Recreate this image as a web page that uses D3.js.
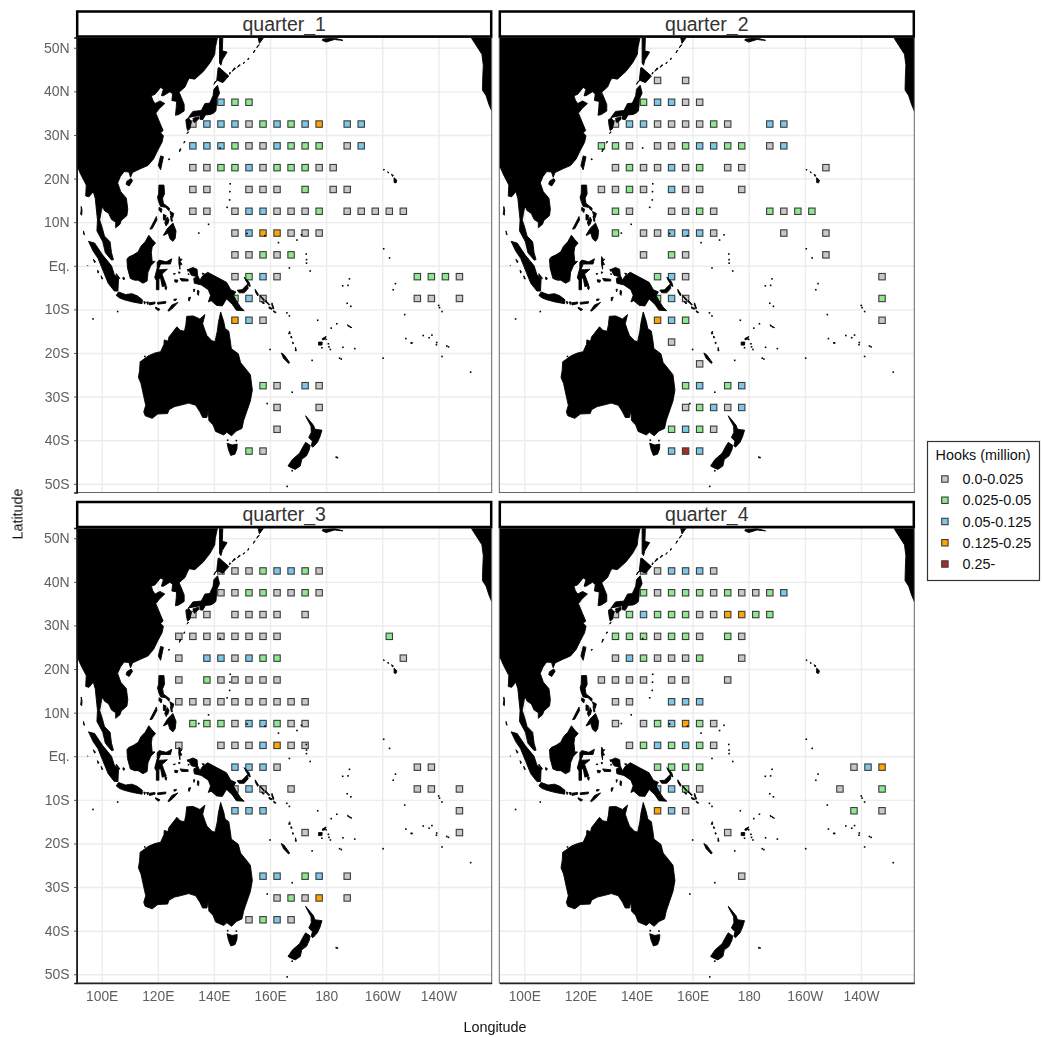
<!DOCTYPE html>
<html><head><meta charset="utf-8">
<script src="https://cdnjs.cloudflare.com/ajax/libs/d3/7.8.5/d3.min.js"></script>
<style>html,body{margin:0;padding:0;background:#fff}svg{display:block;font-family:"Liberation Sans",Arial,sans-serif;filter:blur(0.35px)}</style>
</head><body><svg id="c" width="1042" height="1037"></svg>
<script>
const quarterNames=["quarter_1","quarter_2","quarter_3","quarter_4"];
const binLabels=["0.0-0.025","0.025-0.05","0.05-0.125","0.125-0.25","0.25-"];
const binColors=["#c8c8c8","#8fe88f","#7cc8ea","#ffa500","#a52a2a"];
const lonTicks=[100,120,140,160,180,200,220];
const lonTickLabels=["100E","120E","140E","160E","180","160W","140W"];
const latTicks=[50,40,30,20,10,0,-10,-20,-30,-40,-50];
const latTickLabels=["50N","40N","30N","20N","10N","Eq.","10S","20S","30S","40S","50S"];

// rows: [lat, [lon, bin, lon, bin, ...]]
const quarter1=[
[37.5,[142.5,2,147.5,1,152.5,1]],
[32.5,[132.5,0,137.5,2,142.5,2,147.5,2,152.5,0,157.5,1,162.5,2,167.5,1,172.5,2,177.5,3,187.5,2,192.5,2]],
[27.5,[132.5,2,137.5,2,142.5,2,147.5,1,152.5,0,157.5,0,162.5,2,167.5,1,172.5,1,177.5,1,187.5,0,192.5,2]],
[22.5,[132.5,0,137.5,0,142.5,1,147.5,1,152.5,2,157.5,0,162.5,1,167.5,1,172.5,1,177.5,0,182.5,0]],
[17.5,[132.5,0,137.5,0,152.5,0,157.5,0,162.5,0,172.5,1,182.5,0,187.5,0]],
[12.5,[132.5,0,137.5,0,147.5,0,152.5,2,157.5,2,162.5,0,167.5,0,172.5,0,177.5,1,187.5,0,192.5,0,197.5,0,202.5,0,207.5,0]],
[7.5,[147.5,0,152.5,2,157.5,3,162.5,3,167.5,0,172.5,0,177.5,0]],
[2.5,[147.5,0,152.5,0,157.5,1,162.5,0,167.5,1]],
[-2.5,[147.5,0,152.5,1,157.5,2,162.5,0,212.5,1,217.5,1,222.5,1,227.5,0]],
[-7.5,[147.5,1,152.5,2,157.5,0,212.5,0,217.5,0,227.5,0]],
[-12.5,[147.5,3,152.5,2,157.5,0]],
[-27.5,[157.5,1,162.5,0,172.5,2,177.5,0]],
[-32.5,[162.5,0,177.5,0]],
[-37.5,[162.5,0]],
[-42.5,[152.5,1,157.5,0]]];
const quarter2=[
[42.5,[147.5,0,157.5,0]],
[37.5,[142.5,1,147.5,2,152.5,2,157.5,0,162.5,0]],
[32.5,[132.5,0,137.5,2,142.5,2,147.5,0,152.5,0,157.5,0,162.5,0,167.5,1,172.5,0,187.5,2,192.5,2]],
[27.5,[127.5,1,132.5,1,137.5,0,147.5,0,152.5,0,157.5,1,162.5,2,167.5,2,172.5,1,177.5,1,187.5,0,192.5,2]],
[22.5,[132.5,0,137.5,1,142.5,0,147.5,0,152.5,2,157.5,0,162.5,1,172.5,0,177.5,0,207.5,0]],
[17.5,[127.5,0,132.5,0,137.5,1,142.5,0,152.5,2,157.5,0,162.5,0,177.5,0]],
[12.5,[132.5,1,137.5,0,152.5,0,157.5,0,162.5,1,167.5,0,187.5,1,192.5,0,197.5,1,202.5,1]],
[7.5,[132.5,1,142.5,0,147.5,0,152.5,2,157.5,2,162.5,2,167.5,0,192.5,0,207.5,0]],
[2.5,[142.5,0,152.5,1,157.5,0,207.5,0]],
[-2.5,[147.5,1,152.5,2,157.5,0,227.5,0]],
[-7.5,[147.5,1,152.5,2,157.5,0,227.5,1]],
[-12.5,[147.5,3,152.5,2,157.5,1,227.5,0]],
[-17.5,[152.5,0]],
[-22.5,[162.5,0]],
[-27.5,[157.5,1,162.5,2,172.5,1,177.5,2]],
[-32.5,[157.5,0,162.5,1,167.5,2,172.5,0,177.5,2]],
[-37.5,[152.5,1,157.5,2,162.5,1,167.5,0]],
[-42.5,[152.5,2,157.5,4,162.5,2]]];
const quarter3=[
[42.5,[142.5,0,147.5,0,152.5,0,157.5,1,162.5,2,167.5,2,172.5,1,177.5,0]],
[37.5,[142.5,0,147.5,0,152.5,1,157.5,1,162.5,0,167.5,0,172.5,1,177.5,0]],
[32.5,[132.5,0,137.5,0,147.5,0,152.5,0,157.5,0,162.5,0,172.5,0]],
[27.5,[127.5,0,132.5,0,137.5,0,142.5,0,147.5,0,152.5,0,157.5,0,162.5,0,202.5,1]],
[22.5,[127.5,0,137.5,2,142.5,2,147.5,0,152.5,2,157.5,1,162.5,1,207.5,0]],
[17.5,[127.5,0,137.5,1,142.5,0,147.5,0,152.5,0,157.5,0,162.5,0]],
[12.5,[127.5,0,132.5,0,137.5,0,142.5,0,147.5,0,152.5,0,157.5,0,162.5,0,167.5,0,172.5,0]],
[7.5,[132.5,1,137.5,1,142.5,1,147.5,0,152.5,2,157.5,2,162.5,1,167.5,0,172.5,0]],
[2.5,[127.5,0,142.5,0,147.5,0,152.5,0,157.5,2,162.5,3,167.5,0,172.5,0]],
[-2.5,[147.5,2,152.5,2,157.5,2,162.5,0,212.5,0,217.5,0]],
[-7.5,[147.5,0,152.5,2,157.5,0,167.5,0,212.5,0,217.5,0,227.5,0]],
[-12.5,[147.5,2,152.5,2,157.5,2,227.5,0]],
[-17.5,[172.5,0,227.5,0]],
[-27.5,[157.5,2,162.5,2,172.5,1,177.5,2,187.5,0]],
[-32.5,[162.5,0,167.5,1,172.5,0,177.5,3,187.5,0]],
[-37.5,[152.5,0,157.5,1,162.5,2,167.5,0]]];
const quarter4=[
[42.5,[142.5,0,147.5,0,152.5,2,157.5,2,162.5,2,167.5,0]],
[37.5,[142.5,1,147.5,0,152.5,1,157.5,1,162.5,1,167.5,0,172.5,1,177.5,0,182.5,0,187.5,1,192.5,2]],
[32.5,[132.5,0,137.5,1,142.5,2,147.5,1,152.5,1,157.5,1,162.5,0,167.5,0,172.5,3,177.5,3,182.5,1,187.5,1]],
[27.5,[132.5,1,137.5,1,142.5,1,147.5,0,152.5,1,157.5,1,162.5,0,172.5,1,177.5,0]],
[22.5,[132.5,0,137.5,2,142.5,1,147.5,0,152.5,0,157.5,0,162.5,1,177.5,0]],
[17.5,[127.5,0,132.5,0,137.5,0,142.5,0,152.5,0,157.5,0,172.5,0]],
[12.5,[132.5,0,137.5,0,152.5,2,157.5,2,162.5,2]],
[7.5,[132.5,0,142.5,0,147.5,1,152.5,2,157.5,3,162.5,1,167.5,0]],
[2.5,[137.5,0,142.5,1,147.5,2,152.5,1,157.5,2,162.5,1,167.5,0]],
[-2.5,[147.5,1,152.5,1,157.5,1,162.5,1,217.5,0,222.5,2,227.5,3]],
[-7.5,[147.5,2,152.5,2,157.5,1,162.5,0,212.5,0,227.5,1]],
[-12.5,[147.5,3,152.5,2,157.5,0,217.5,1,227.5,0]],
[-17.5,[172.5,0]],
[-27.5,[177.5,0]]];
const quarters=[quarter1,quarter2,quarter3,quarter4];

// Coastlines as [lon, lat] outlines (longitudes run 0-360)
const asia=[[85,60],[144,60],[141.5,53],[141,51.5],[140.5,50],[140.3,48.5],[138.7,46.6],[136.3,44.6],[133.2,42.8],[131.2,43],[130.6,42.3],[129.7,41],[127.6,39.8],[128.4,38.6],[129.4,37],[129.4,35.5],[127.5,34.7],[126.3,34.5],[126.6,36.5],[126.7,37.7],[125,37.9],[125.3,39.4],[124.3,39.9],[122,39],[121.3,39],[122,40.5],[121,40.9],[119,39.3],[117.7,39],[118.2,38],[119,37.2],[120.8,37.8],[122.5,37.2],[120.5,36],[119.3,35],[120.8,32.7],[121.9,31],[121,30.5],[122,29.8],[121.5,28.3],[120,26.5],[118.5,24.5],[116.5,23],[114,22.3],[111,21.4],[110.3,20.3],[109.7,21.5],[108,21.6],[106.7,20.5],[105.7,19],[106.8,17],[108.8,15.5],[109.3,13],[109,11.5],[107,10.4],[106.5,9.5],[105,8.7],[105,10],[103.5,10.6],[102.5,12],[100.9,12.7],[100.5,13.5],[100,13],[99.3,10.5],[100.3,8.5],[101,6.8],[103,5.5],[103.5,3],[104.2,1.4],[103.5,1.3],[101.3,3],[100.4,5.5],[98.3,8],[98.5,10.5],[97.7,15.5],[97,17],[95.5,15.8],[94.3,16],[94.5,18.5],[92.5,21],[91.5,22.5],[85,22.5]];
const australia=[[113.7,-22],[114.2,-21.8],[116.8,-20.6],[119,-20],[121,-19.7],[122.2,-18],[122.3,-17],[123.6,-17.3],[124,-16.3],[125,-15.5],[126.8,-14],[128,-14.8],[129.5,-15],[130,-13.5],[130.3,-11.6],[132.6,-11.5],[135,-12.2],[136.8,-11.2],[136,-13.3],[136.8,-14.8],[137.5,-16],[139.3,-17.2],[140.4,-17.4],[141.2,-15],[141.6,-13],[142.4,-10.6],[143.5,-12.8],[144,-14.4],[145.3,-15],[145.8,-17],[146.2,-19],[148.7,-20.2],[149.5,-22.2],[150.8,-23.2],[153,-25],[153.7,-28.5],[153,-31],[151.5,-33.8],[150.6,-35.5],[150,-37.3],[148,-37.9],[146.3,-39],[144.6,-38.2],[143.5,-38.8],[140.6,-38],[139.7,-36.5],[138.2,-35.5],[138,-33.2],[137.5,-34.8],[136,-34.8],[135,-33.5],[133.5,-32],[131,-31.5],[128,-32],[126,-32.3],[124,-33],[123.5,-33.9],[120,-34],[118,-35],[115.5,-34.4],[115,-33.5],[115.7,-32],[115,-30],[114,-27],[113.1,-25.6],[113.5,-24]];
const northAmerica=[[231.3,53],[232,52],[233.5,50.5],[235.5,48.5],[236,46],[235.8,43],[235.7,40.3],[237,39],[238,37],[239,35.5],[240,34.5],[245,34],[245,53]];
const newGuinea=[[131,-0.8],[132.5,-0.4],[134,-0.8],[134.2,-2.2],[135,-3.3],[136,-2.3],[137.8,-1.5],[141,-2.6],[144.5,-3.8],[146,-5.5],[147.8,-6],[147,-6.8],[148,-8],[149.5,-9.5],[150.8,-10.3],[148,-10.2],[146.5,-8.8],[144.5,-7.6],[143,-9.2],[141,-9.1],[139,-8],[138,-8.3],[138.8,-6.8],[138,-5.5],[135.5,-4.4],[133,-4],[132.8,-2.9],[134,-2.5],[132,-2.2],[131.3,-1.4]];
const borneo=[[109,1.5],[109.6,2],[111.3,2.5],[113,3.2],[114,4.5],[115.5,5.5],[116.8,7],[118,6],[119.2,5.2],[118,4.3],[117.7,3],[118,1],[119,1],[117.5,0],[116.5,-1.5],[116.2,-3.5],[114.7,-4],[113,-3.3],[111.7,-3.3],[110.2,-2.9],[109.2,-0.5]];
const sumatra=[[95.3,5.6],[97.5,5.2],[100.3,2.5],[103.5,0],[104.5,-2],[106,-3],[105.8,-5.8],[104.5,-5.8],[102.3,-4],[100.4,-1],[98.7,1.7],[97,3.3]];
const java=[[105.2,-6.8],[106,-6],[108.5,-6.6],[110.8,-6.4],[112.7,-6.9],[114.5,-7.8],[114.4,-8.7],[111,-8.3],[108,-7.8],[106.4,-7.4]];
const sulawesi=[[119.8,0.8],[120.5,1.3],[123,0.9],[125,1.6],[124.5,0.4],[121,0.4],[120.2,-0.9],[121.5,-0.9],[123.4,-0.8],[121.5,-1.9],[122.3,-3.3],[123,-4.5],[121.6,-4.8],[121,-2.8],[120.4,-3],[120.4,-5.5],[119.5,-5.5],[119.5,-3.4],[118.9,-2.7],[119.8,-0.5]];
const honshu=[[130.9,34],[132.5,35.4],[135.5,35.6],[136.8,37.2],[138.5,37.3],[139.7,39],[140,40.5],[141.3,41.4],[142,39.6],[141,38.2],[140.9,36.8],[140.7,35.5],[139.8,35],[138.8,34.7],[137,34.6],[136,33.5],[135,33.6],[135,34.5],[132.5,34.2]];
const kyushu=[[130,33.5],[131,33.9],[132,33],[131.4,31.4],[130.6,31],[130.2,32.2]];
const shikoku=[[132.5,33.8],[134.5,34.2],[134.5,33.6],[133,32.8]];
const hokkaido=[[140,41.6],[141,42.5],[141.5,45.4],[142,45.4],[145.3,43.5],[143.2,42],[141.3,42.5],[140.4,42.2]];
const sakhalin=[[142,53],[143.2,53],[143,49.3],[144.7,49],[143,47.2],[142.5,46],[142,46.5],[142,49]];
const kamchatka=[[156.2,51],[158.5,53],[155.5,53]];
const taiwan=[[121,25.2],[122,25],[121,22],[120.2,23]];
const hainan=[[109,19.4],[110.5,20],[111,19.5],[109.8,18.3],[108.7,18.7]];
const luzon=[[120.4,18.5],[122.2,18.5],[122.4,16.5],[121.7,15.5],[122,14.3],[124.2,13.2],[124,12.6],[122.8,13.4],[121,13.6],[120.4,14.5],[119.9,15.7],[120.3,16.5]];
const mindanao=[[122,7],[123.5,8.6],[125.4,9.8],[126.5,8],[126.2,6.3],[125.4,5.6],[124.3,6.2],[123.7,7.5],[122.3,7]];
const palawan=[[117.2,8.4],[119.5,11.3],[119.7,10.5],[118,8.5]];
const visayas=[[[124.3,12.5],[125.7,12],[125.3,11],[124.8,11.3]],[[122,11.8],[123,11.5],[122.5,10.5],[122,10.5]],[[123,11],[123.5,10],[123,9.1],[122.5,9.8]],[[120.5,13.4],[121.5,13],[121.2,12.2],[120.4,12.8]],[[123.4,11.2],[124,10.5],[123.5,9.5]],[[124.5,11.4],[125,11],[125.2,10.2],[124.8,10.2]]];
const tasmania=[[144.7,-40.7],[146.5,-41.1],[148.3,-40.9],[148.2,-42],[147.5,-43.2],[146,-43.5],[145.2,-42.2]];
const nzNorth=[[172.7,-34.4],[174.5,-35.8],[175.5,-36.6],[176,-37.5],[178.5,-37.7],[177.8,-39.2],[176.9,-40.5],[175.3,-41.6],[174.7,-41.3],[175.1,-40.2],[173.8,-39.4],[174.7,-38.2],[174.6,-36.8],[173,-34.9]];
const nzSouth=[[172.7,-40.5],[174.3,-41.2],[174,-42.2],[173,-43.6],[171.3,-44.4],[170.8,-45.9],[169,-46.7],[167.5,-46.3],[166.4,-45.9],[168,-44.4],[170.5,-43],[172,-41.2]];
const newCaledonia=[[164,-20],[165,-20.4],[167,-22.2],[166.6,-22.4],[164.8,-21.2]];
const melanesia=[[[148.3,-5.6],[150,-5.5],[152,-4.2],[152.2,-5.2],[150.8,-6.2],[149,-6.2]],[[150.8,-2.6],[152.5,-3.7],[153,-4.7],[152.6,-4.7],[151.3,-3.3]],[[154.7,-5.4],[155.9,-6.6],[155.6,-6.9],[154.8,-6]],[[156.5,-6.8],[158,-7.8],[157.8,-8],[156.6,-7.1]],[[158.4,-7.9],[159.9,-8.9],[159.6,-9],[158.3,-8.2]],[[160.7,-8.5],[161.4,-9.8],[161.1,-9.9],[160.6,-8.9]],[[159.6,-9.4],[160.8,-9.8],[160.6,-10],[159.7,-9.8]],[[161.3,-10.3],[162.2,-10.7],[161.9,-10.8],[161.3,-10.6]],[[157,-8.2],[158,-8.6],[157.5,-8.7]],[[167,-15],[167.2,-15.6],[166.6,-15.6]],[[167.5,-16.1],[167.9,-16.5],[167.4,-16.5]],[[168,-17.5],[168.5,-17.7],[168.1,-17.9]],[[169.1,-18.7],[169.4,-19.5],[169,-19.5]],[[177.3,-17.5],[178.6,-17.5],[178.5,-18.2],[177.3,-18.2]],[[178.6,-16.7],[180,-16.2],[179.5,-16.9],[178.7,-17]],[[179.9,-16.7],[180.2,-16.9],[179.9,-17]],[[187.6,-13.5],[188.2,-13.8],[187.8,-13.9]],[[188.2,-13.8],[189.2,-14.2],[188.4,-14.1]]];
const wallacea=[[[115,-8.2],[115.6,-8.3],[115.3,-8.8]],[[116,-8.3],[116.7,-8.3],[116.4,-8.9]],[[116.9,-8.5],[119,-8.3],[119,-8.7],[117,-9]],[[119.9,-8.4],[122.9,-8.2],[122.8,-8.6],[120,-8.8]],[[119.2,-9.5],[120.8,-10],[120.2,-10.3],[119.2,-9.8]],[[123.6,-10.3],[125,-9],[127.2,-8.4],[125.5,-9.6],[124,-10.4]],[[125.7,-7.7],[126.7,-7.6],[126.5,-7.9],[125.8,-8]],[[131,-7.3],[131.7,-7.2],[131.2,-8.1],[131,-8]],[[134.2,-5.6],[134.7,-5.8],[134.5,-6.8],[134.1,-6.5]],[[132.7,-5.4],[133.2,-5.4],[132.9,-6]],[[127.9,-2.9],[130.8,-3.1],[130.8,-3.5],[128.5,-3.5]],[[126,-3.2],[127.2,-3.3],[126.9,-3.8],[126.1,-3.7]],[[127.6,2.1],[128,1.5],[128.7,1.5],[128,1],[128.6,0.3],[127.9,0.2],[127.9,-0.8],[127.5,0.5],[127.5,1.5]],[[127.4,-1.4],[128,-1.5],[127.6,-1.8]],[[125.6,-1.8],[126.3,-1.8],[125.7,-2]],[[105.2,-1.8],[106.5,-2.9],[106,-3],[105.2,-2.2]],[[107.6,-2.6],[108.2,-2.8],[108,-3.2],[107.6,-3.1]],[[97,1.5],[97.8,1],[97.5,0.7]],[[98.5,-1],[99,-1.4],[98.7,-1.7]],[[99.8,-2.3],[100.4,-3],[100,-3]],[[122.6,-4.7],[123.2,-4.8],[123,-5.5],[122.6,-5.3]],[[130.5,-0.8],[131.2,-0.9],[130.8,-1.3]],[[135.8,-1.7],[136.6,-1.8],[136,-2]],[[130.8,-1.8],[131.2,-1.9],[130.9,-2.1]]];
const kurils=[[[145.5,43.9],[146,44.2],[145.7,44.4]],[[146.5,44.6],[147.7,45.2],[147.3,45.4]],[[148.4,45.5],[149.4,46],[149,46.1]],[[150.5,46.3],[151,46.7],[150.6,46.6]],[[152.1,47.2],[152.5,47.6],[152.2,47.6]],[[154.1,48.8],[154.7,49.4],[154.3,49.3]],[[155.3,50],[156.2,50.7],[155.5,50.4]]];
const ryukyu=[[[123.8,24.3],[124.3,24.4],[124,24.6]],[[127.7,26.1],[128.3,26.8],[127.9,26.8]],[[129.3,28.1],[129.7,28.5],[129.4,28.5]],[[130.4,30.3],[131,30.7],[130.7,30.7]],[[131.1,31.3],[131.3,31.4],[131.1,31.5]]];
const andamans=[[[92.7,13.6],[93,12.8],[92.9,11.6],[92.5,11.8],[92.7,12.8]],[[93.5,8],[93.9,7.1],[93.6,7.2]],[[95,0],[95,0.1],[95.1,0]]];
const aleutians=[[[172.5,52.9],[173.3,52.9],[173,53]],[[178.6,51.7],[180,51.3],[183,51.9],[184,51.8],[186,51.7],[183,52.2],[178.8,52]]];
const islets=[[96.9,-12.2],[105.7,-10.5],[115.4,-20.8],[142.2,27],[145.8,18.8],[145.7,17],[145.6,15.1],[144.7,13.4],[134.6,7.5],[138.1,9.5],[151.8,7.4],[158.2,6.9],[163,5.3],[169.6,5.9],[171.2,7.1],[172.9,2.7],[173,1.4],[173,0.6],[174.3,-1.2],[166.9,-0.5],[200.5,3.9],[202.6,1.8],[188.3,-3],[187.8,-4.5],[185.9,-4.6],[204.7,-4.1],[203.9,-5.5],[187.5,-8.6],[188.8,-9.3],[220.1,-9.1],[220.4,-9.6],[221.3,-10.5],[208,-11.2],[166,-10.8],[166.9,-11.5],[177,-12.5],[183.8,-13.3],[181.8,-14.3],[160,-19.2],[190.2,-19],[186,-18.7],[184.8,-21.2],[185.4,-21.4],[175,-21.7],[200.3,-21.2],[208.4,-16.7],[210.3,-17.7],[210.6,-17.7],[214.6,-16],[216.7,-16.5],[217.7,-15.9],[219.3,-18.1],[219.4,-17.6],[223,-18.4],[223.6,-18.6],[221.3,-20.8],[231.5,-24.4],[167.9,-29],[183.6,-43.9],[184,-44],[166.1,-50.6],[167.9,-47],[159,-31.6],[178.5,-18.8],[180.8,-17.9],[181,-18.6],[181.5,-19.2],[144.9,-40],[148,-40.1]];
const hawaii=[[[204.2,20.2],[205.2,19.6],[204.9,19],[204.2,19.1]],[[203.3,21],[204,20.7],[203.6,20.5]],[[202,21.6],[202.3,21.3],[202,21.3]],[[200.5,22.2],[200.8,22],[200.5,21.9]]];
const landShapes=[asia,australia,northAmerica,newGuinea,borneo,sumatra,java,sulawesi,honshu,kyushu,shikoku,hokkaido,sakhalin,kamchatka,taiwan,hainan,luzon,mindanao,palawan,...visayas,tasmania,nzNorth,nzSouth,newCaledonia,...melanesia,...wallacea,...kurils,...ryukyu,...andamans,...aleutians,...hawaii];

const svg=d3.select("#c");
const panelW=415,panelH=455,lonDomain=[91.1,239],latDomain=[-52,52.35];
const panelX=[76.7,499.3],panelY=[37.5,528];
const stripH=25;

svg.append("defs").append("clipPath").attr("id","pc").append("rect").attr("width",panelW).attr("height",panelH);

quarters.forEach((rows,i)=>{
  const col=i%2,row=i>>1;
  const x=d3.scaleLinear().domain(lonDomain).range([0,panelW]);
  const y=d3.scaleLinear().domain(latDomain).range([panelH,0]);
  const g=svg.append("g").attr("transform",`translate(${panelX[col]},${panelY[row]})`);
  // grid
  const gx=g.append("g").attr("transform",`translate(0,${panelH})`)
    .call(d3.axisBottom(x).tickValues(lonTicks).tickSize(-panelH).tickFormat(""));
  const gy=g.append("g").call(d3.axisLeft(y).tickValues(latTicks).tickSize(-panelW).tickFormat(""));
  [gx,gy].forEach(a=>{a.select(".domain").remove();a.selectAll("line").attr("stroke","#ececec").attr("stroke-width",1.4)});
  const body=g.append("g").attr("clip-path","url(#pc)");
  // points
  const pts=rows.flatMap(([lat,cells])=>d3.range(0,cells.length,2).map(k=>({lat,lon:cells[k],bin:cells[k+1]})));
  body.selectAll("rect.p").data(pts).join("rect").attr("class","p")
    .attr("x",d=>x(d.lon)-3.2).attr("y",d=>y(d.lat)-3.2).attr("width",6.4).attr("height",6.4)
    .attr("fill",d=>binColors[d.bin]).attr("stroke","#3c3c3c").attr("stroke-width",1.1);
  // land on top of points
  const line=d3.line().x(d=>x(d[0])).y(d=>y(d[1]));
  body.selectAll("path.land").data(landShapes).join("path").attr("class","land")
    .attr("d",d=>line(d)+"Z").attr("fill","#000").attr("stroke","#000").attr("stroke-width",0.9).attr("stroke-linejoin","round");
  body.selectAll("rect.islet").data(islets).join("rect").attr("class","islet")
    .attr("x",d=>x(d[0])-0.8).attr("y",d=>y(d[1])-0.8).attr("width",1.6).attr("height",1.6).attr("fill","#000");
  // border
  g.append("rect").attr("width",panelW).attr("height",panelH).attr("fill","none").attr("stroke","#666").attr("stroke-width",1);
  // strip
  g.append("rect").attr("x",0.5).attr("y",-stripH-1).attr("width",panelW-1).attr("height",stripH).attr("fill","#fff").attr("stroke","#000").attr("stroke-width",2.5);
  g.append("text").attr("x",panelW/2).attr("y",-stripH/2-1.5).attr("dy","0.36em").attr("text-anchor","middle").attr("font-size",19.5).attr("fill","#333").text(quarterNames[i]);
  // axes
  if(col===0){
    const a=g.append("g").call(d3.axisLeft(y).tickValues(latTicks).tickSize(2.5).tickPadding(4.5).tickFormat((d,k)=>latTickLabels[k]));
    a.select(".domain").attr("stroke","#111").attr("stroke-width",1.5);
    a.selectAll("line").attr("stroke","#444");
    a.selectAll("text").attr("font-size",14).attr("font-family","inherit").attr("fill","#5f5f5f");
  }
  if(row===1){
    const a=g.append("g").attr("transform",`translate(0,${panelH})`).call(d3.axisBottom(x).tickValues(lonTicks).tickSize(0).tickPadding(8).tickFormat((d,k)=>lonTickLabels[k]));
    a.select(".domain").attr("stroke","#222").attr("stroke-width",1.3);
    a.selectAll("text").attr("font-size",13.8).attr("font-family","inherit").attr("fill","#5f5f5f");
  }
});

svg.append("text").attr("x",495).attr("y",1032).attr("text-anchor","middle").attr("font-size",14.4).attr("fill","#111").text("Longitude");
svg.append("text").attr("transform","translate(22.5,514) rotate(-90)").attr("text-anchor","middle").attr("font-size",14.4).attr("fill","#111").text("Latitude");

// legend
const leg=svg.append("g");
leg.append("rect").attr("x",927.5).attr("y",441.5).attr("width",112).attr("height",139).attr("fill","#fff").attr("stroke","#333").attr("stroke-width",1.2);
leg.append("text").attr("x",935.5).attr("y",460).attr("font-size",14.4).attr("fill","#111").text("Hooks (million)");
const legY=d3.scalePoint().domain(binLabels).range([479,564]);
leg.selectAll("rect.k").data(binLabels).join("rect").attr("class","k")
  .attr("x",941.7).attr("y",d=>legY(d)-3.2).attr("width",6.4).attr("height",6.4)
  .attr("fill",(d,i)=>binColors[i]).attr("stroke","#3c3c3c").attr("stroke-width",1.1);
leg.selectAll("text.l").data(binLabels).join("text").attr("class","l")
  .attr("x",962.5).attr("y",d=>legY(d)).attr("dy","0.36em").attr("font-size",14.4).attr("fill","#111").text(d=>d);
</script></body></html>
